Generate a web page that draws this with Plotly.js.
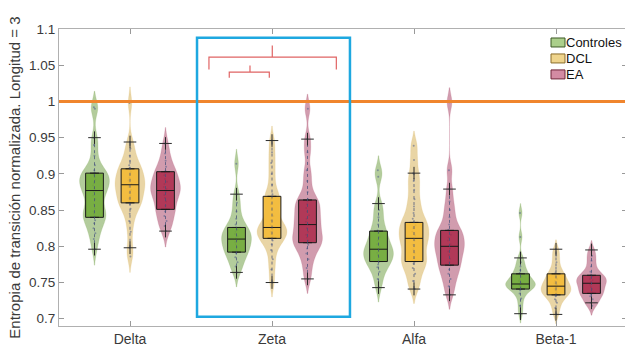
<!DOCTYPE html>
<html>
<head>
<meta charset="utf-8">
<script src="https://cdn.plot.ly/plotly-3.0.1.min.js"></script>
<style>
html,body{margin:0;padding:0;overflow:hidden;background:#fff;}
#chart{width:630px;height:351px;}
</style>
</head>
<body>
<div id="chart"></div>
<script>
// Categories and groups
const bands = ["Delta", "Zeta", "Alfa", "Beta-1"];
const groups = ["Controles", "DCL", "EA"];

// Samples (one array per band and group)
const deltaControles = [0.796,0.81,0.818,0.825,0.832,0.836,0.840,0.842,0.845,0.848,0.852,0.858,0.865,0.870,0.875,0.877,0.880,0.884,0.887,0.889,0.892,0.895,0.898,0.900,0.902,0.905,0.912,0.925,0.94,0.95,0.99,0.992];
const deltaDCL = [0.786,0.798,0.82,0.835,0.845,0.852,0.858,0.860,0.862,0.866,0.870,0.874,0.878,0.882,0.884,0.886,0.888,0.891,0.895,0.899,0.903,0.906,0.908,0.912,0.918,0.925,0.935,0.944,0.998];
const deltaEA = [0.821,0.828,0.835,0.842,0.848,0.851,0.856,0.862,0.867,0.871,0.875,0.877,0.879,0.882,0.886,0.889,0.893,0.898,0.902,0.904,0.91,0.918,0.928,0.942];
const zetaControles = [0.764,0.772,0.778,0.785,0.79,0.792,0.795,0.799,0.803,0.806,0.809,0.811,0.814,0.817,0.82,0.823,0.826,0.83,0.838,0.848,0.86,0.872,0.914];
const zetaDCL = [0.750,0.768,0.782,0.795,0.803,0.808,0.811,0.814,0.817,0.82,0.823,0.825,0.826,0.83,0.836,0.842,0.85,0.858,0.865,0.868,0.872,0.885,0.9,0.915,0.93,0.946];
const zetaEA = [0.755,0.77,0.782,0.79,0.797,0.802,0.805,0.808,0.812,0.816,0.82,0.825,0.83,0.834,0.838,0.843,0.848,0.853,0.858,0.862,0.865,0.875,0.89,0.905,0.93,0.948,0.99];
const alfaControles = [0.743,0.755,0.765,0.771,0.775,0.779,0.782,0.785,0.788,0.791,0.794,0.796,0.799,0.803,0.808,0.813,0.818,0.822,0.83,0.84,0.85,0.859,0.896,0.905];
const alfaDCL = [0.741,0.752,0.762,0.77,0.776,0.779,0.784,0.79,0.796,0.802,0.808,0.811,0.815,0.82,0.825,0.829,0.833,0.838,0.846,0.855,0.865,0.878,0.89,0.901,0.919,0.939];
const alfaEA = [0.733,0.745,0.755,0.762,0.768,0.774,0.778,0.783,0.788,0.793,0.797,0.80,0.803,0.808,0.812,0.816,0.82,0.823,0.83,0.84,0.85,0.862,0.879,0.905,0.999];
const betaControles = [0.707,0.718,0.728,0.735,0.739,0.741,0.743,0.745,0.746,0.747,0.748,0.749,0.75,0.752,0.755,0.758,0.761,0.763,0.767,0.772,0.778,0.784,0.813,0.846];
const betaDCL = [0.706,0.715,0.722,0.727,0.731,0.733,0.735,0.737,0.739,0.741,0.743,0.745,0.747,0.749,0.752,0.755,0.758,0.761,0.764,0.77,0.778,0.787,0.796];
const betaEA = [0.718,0.722,0.727,0.731,0.734,0.736,0.738,0.741,0.744,0.747,0.749,0.751,0.753,0.755,0.757,0.759,0.761,0.765,0.772,0.78,0.787,0.795];

// Box statistics, per group, in band order
const controlesQ1 = [0.840, 0.792, 0.779, 0.741];
const controlesMed = [0.877, 0.810, 0.796, 0.748];
const controlesQ3 = [0.901, 0.826, 0.821, 0.762];
const controlesLo = [0.796, 0.764, 0.743, 0.707];
const controlesHi = [0.950, 0.872, 0.859, 0.784];

const dclQ1 = [0.860, 0.811, 0.779, 0.733];
const dclMed = [0.885, 0.826, 0.811, 0.745];
const dclQ3 = [0.907, 0.869, 0.833, 0.762];
const dclLo = [0.798, 0.750, 0.741, 0.706];
const dclHi = [0.944, 0.946, 0.901, 0.796];

const eaQ1 = [0.851, 0.805, 0.774, 0.735];
const eaMed = [0.877, 0.830, 0.800, 0.749];
const eaQ3 = [0.903, 0.864, 0.822, 0.760];
const eaLo = [0.821, 0.755, 0.733, 0.722];
const eaHi = [0.942, 0.948, 0.879, 0.795];

const yTicks = [0.7,0.75,0.8,0.85,0.9,0.95,1,1.05,1.1];
const yTickText = ["0.7","0.75","0.8","0.85","0.9","0.95","1","1.05","1.1"];

const samples = [
  [deltaControles, deltaDCL, deltaEA],
  [zetaControles, zetaDCL, zetaEA],
  [alfaControles, alfaDCL, alfaEA],
  [betaControles, betaDCL, betaEA]
];
const stats = [
  {q1: controlesQ1, med: controlesMed, q3: controlesQ3, lo: controlesLo, hi: controlesHi},
  {q1: dclQ1, med: dclMed, q3: dclQ3, lo: dclLo, hi: dclHi},
  {q1: eaQ1, med: eaMed, q3: eaQ3, lo: eaLo, hi: eaHi}
];

const offsets = [-0.25, 0, 0.25];
const bandBw = [0.011, 0.010, 0.010, 0.0065];
const violinFill = ['rgba(128,170,90,0.6)', 'rgba(218,185,105,0.6)', 'rgba(178,90,120,0.6)'];
const violinLine = ['rgba(128,170,90,0.4)', 'rgba(218,185,105,0.4)', 'rgba(178,90,120,0.4)'];
const boxFill = ['rgba(112,170,55,0.88)', 'rgba(244,186,50,0.88)', 'rgba(170,35,70,0.82)'];
const legendFill = ['rgba(150,195,110,0.8)', 'rgba(236,205,120,0.85)', 'rgba(200,110,140,0.8)'];
const legendEdge = ['#3d5a26', '#8a6d2a', '#6e2438'];

const traces = [];
samples.forEach((bandSamples, b) => {
  bandSamples.forEach((vals, g) => {
    traces.push({
      type: 'violin',
      x0: b + 1 + offsets[g],
      y: vals,
      width: 0.21,
      bandwidth: bandBw[b],
      scalemode: 'width',
      fillcolor: violinFill[g],
      line: {color: violinLine[g], width: 0.5},
      points: 'all',
      pointpos: 0,
      jitter: 0.12,
      marker: {size: 2, color: 'rgba(80,95,140,0.55)'},
      box: {visible: false},
      meanline: {visible: false},
      showlegend: false,
      hoverinfo: 'skip'
    });
  });
});

// dashed whisker lines (from lower to upper whisker)
groups.forEach((name, g) => {
  const s = stats[g];
  const xs = [], ys = [];
  bands.forEach((_, b) => {
    const p = b + 1 + offsets[g];
    xs.push(p, p, null);
    ys.push(s.lo[b], s.hi[b], null);
  });
  traces.push({
    type: 'scatter', mode: 'lines', x: xs, y: ys,
    line: {color: 'rgba(70,80,120,0.75)', width: 1, dash: 'dot'},
    showlegend: false, hoverinfo: 'skip'
  });
});

// boxes
groups.forEach((name, g) => {
  const s = stats[g];
  traces.push({
    type: 'box',
    name: name,
    x: bands.map((_, b) => b + 1 + offsets[g]),
    q1: s.q1, median: s.med, q3: s.q3,
    lowerfence: s.q1, upperfence: s.q3,
    width: 0.125,
    fillcolor: boxFill[g],
    line: {color: '#1a1a1a', width: 1},
    boxpoints: false,
    showlegend: false,
    hoverinfo: 'skip'
  });
});

// whisker caps (+)
groups.forEach((name, g) => {
  const s = stats[g];
  const xs = [], ys = [];
  bands.forEach((_, b) => {
    const p = b + 1 + offsets[g];
    xs.push(p, p);
    ys.push(s.lo[b], s.hi[b]);
  });
  traces.push({
    type: 'scatter', mode: 'markers', x: xs, y: ys,
    marker: {symbol: 'cross-thin', size: 9, line: {color: '#2a2a2a', width: 1}},
    showlegend: false, hoverinfo: 'skip'
  });
});

// plot area geometry (px) for the hand-drawn legend
const L = 59, R = 3, T = 28.5, B = 25, W = 630, H = 351;
const pw = W - L - R, ph = H - T - B;
const px = v => (v - L) / pw;
const py = v => (H - B - v) / ph;

const bracketColor = '#e06464';
const shapes = [
  {type: 'line', xref: 'x', yref: 'y', x0: 0.5, x1: 4.5, y0: 1, y1: 1,
   line: {color: '#f0852d', width: 3}},
  {type: 'rect', xref: 'x', yref: 'y', x0: 1.472, x1: 2.549, y0: 0.7027, y1: 1.088,
   line: {color: '#1ea8e0', width: 2.5}, fillcolor: 'rgba(0,0,0,0)'},
  {type: 'path', xref: 'x', yref: 'y',
   path: 'M1.556,1.0441 L1.556,1.0613 L2.453,1.0613 L2.453,1.0441 M2.002,1.0613 L2.002,1.0771',
   line: {color: bracketColor, width: 1.2}},
  {type: 'path', xref: 'x', yref: 'y',
   path: 'M1.699,1.0326 L1.699,1.0404 L1.981,1.0404 L1.981,1.0326 M1.845,1.0404 L1.845,1.0496',
   line: {color: bracketColor, width: 1.2}}
];
const annotations = [];
groups.forEach((name, g) => {
  const cy = 42 + 16 * g;
  shapes.push({type: 'rect', xref: 'paper', yref: 'paper',
    x0: px(551), x1: px(565), y0: py(cy - 4.5), y1: py(cy + 4.5),
    fillcolor: legendFill[g], line: {color: legendEdge[g], width: 1}});
  annotations.push({xref: 'paper', yref: 'paper', x: px(564), y: py(cy),
    xanchor: 'left', yanchor: 'middle', text: name, showarrow: false,
    font: {size: 13, color: '#111'}});
});

const layout = {
  width: W, height: H,
  margin: {l: L, r: R, t: T, b: B},
  paper_bgcolor: '#fff', plot_bgcolor: '#fff',
  font: {family: 'Liberation Sans, Arial, sans-serif', size: 14, color: '#3a3a3a'},
  showlegend: false,
  xaxis: {
    type: 'linear', range: [0.5, 4.5],
    tickvals: [1, 2, 3, 4], ticktext: bands,
    ticks: 'inside', ticklen: 5, tickcolor: '#999',
    showline: true, linecolor: '#b0b0b0', linewidth: 1, mirror: 'ticks',
    showgrid: false, zeroline: false,
    tickfont: {size: 14, color: '#3a3a3a'}
  },
  yaxis: {
    range: [0.690, 1.1],
    tickvals: yTicks, ticktext: yTickText,
    ticks: 'inside', ticklen: 5, tickcolor: '#999',
    showline: true, linecolor: '#b0b0b0', linewidth: 1, mirror: 'ticks',
    showgrid: false, zeroline: false,
    tickfont: {size: 13.5, color: '#3a3a3a'},
    title: {text: 'Entropia de transición normalizada. Longitud = 3', font: {size: 15, color: '#3a3a3a'}, standoff: 4}
  },
  shapes: shapes,
  annotations: annotations
};

Plotly.newPlot('chart', traces, layout, {displayModeBar: false, staticPlot: true});
</script>
</body>
</html>
